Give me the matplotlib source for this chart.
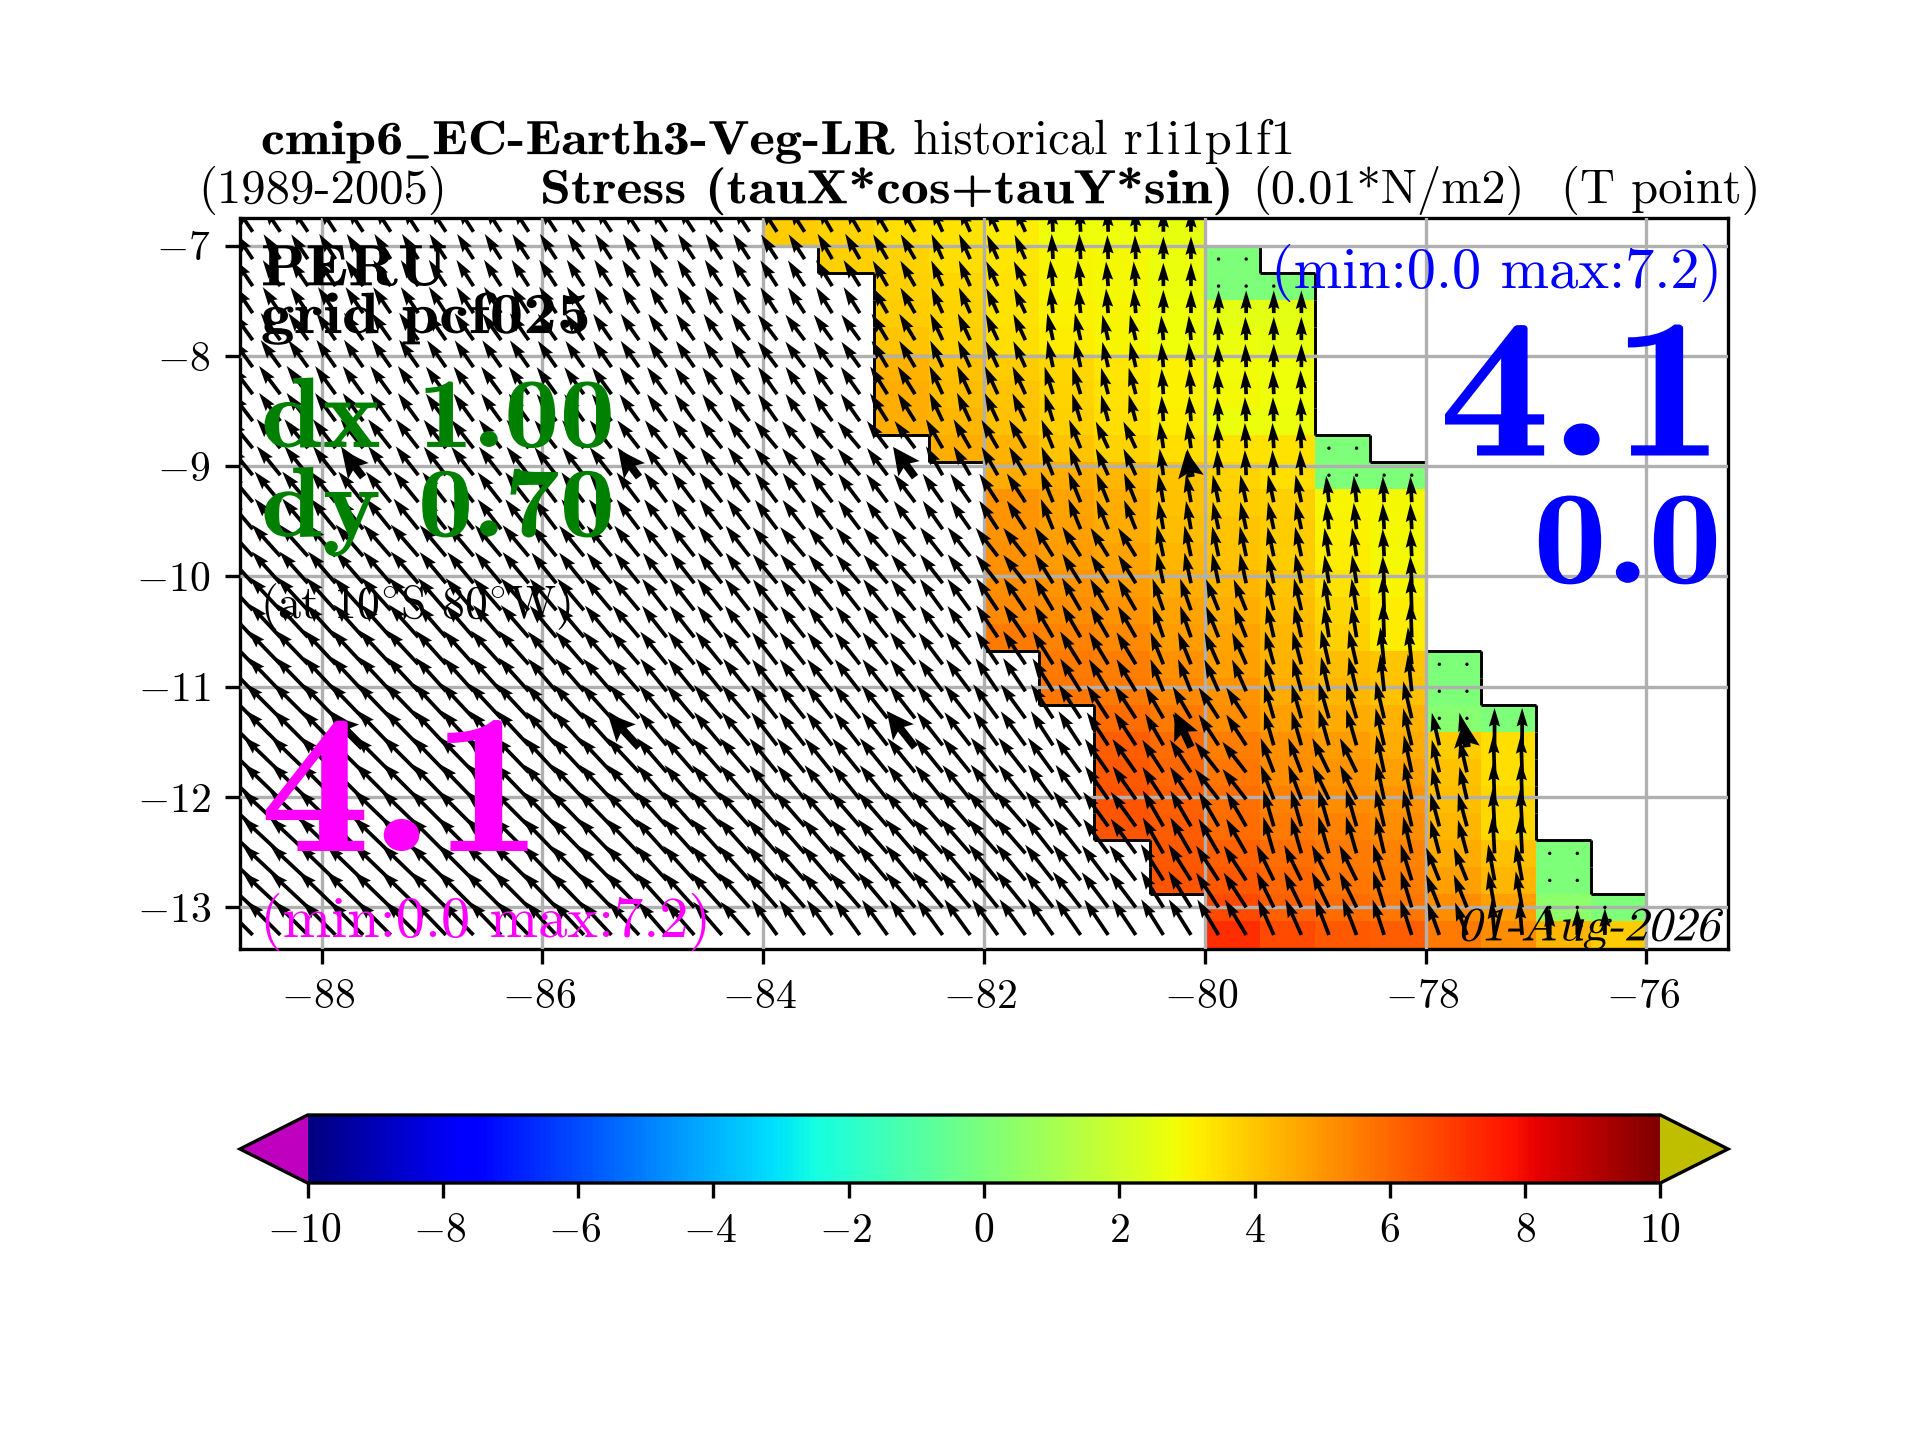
import numpy as np
import matplotlib
matplotlib.use('Agg')
import matplotlib.pyplot as plt
from matplotlib.collections import LineCollection
from matplotlib.patheffects import AbstractPathEffect
from matplotlib.transforms import Affine2D, ScaledTranslation

plt.rcParams.update({'font.family': ['cmr10', 'DejaVu Sans'], 'mathtext.fontset': 'cm',
                     'axes.formatter.use_mathtext': True, 'axes.unicode_minus': True,
                     'font.size': 10})

N = np.nan
lon_edges = [-84, -83.5, -83, -82.5, -82, -81.5, -81, -80.5, -80, -79.5, -79, -78.5, -78, -77.5, -77, -76.5, -76]
lat_edges = [-6.75, -7.0, -7.245, -7.49, -7.735, -7.98, -8.225, -8.47, -8.715, -8.96, -9.205, -9.45, -9.695, -9.94,
             -10.185, -10.43, -10.675, -10.92, -11.165, -11.41, -11.655, -11.9, -12.145, -12.39, -12.635, -12.88,
             -13.125, -13.38]
stress = [
 [3.9, 3.7, 3.5, 3.4, 3.2, 2.8, 2.75, 2.6, N, N, N, N, N, N, N, N],
 [N, 3.8, 3.7, 3.5, 3.3, 3.0, 2.9, 2.7, 0, N, N, N, N, N, N, N],
 [N, N, 3.8, 3.6, 3.4, 3.0, 2.9, 2.7, 0, 0, N, N, N, N, N, N],
 [N, N, 3.9, 3.7, 3.4, 3.1, 3.0, 2.8, 2.5, 2.5, N, N, N, N, N, N],
 [N, N, 4.0, 3.8, 3.5, 3.2, 3.0, 2.8, 2.7, 2.6, N, N, N, N, N, N],
 [N, N, 4.4, 4.1, 3.9, 3.6, 3.3, 3.1, 2.85, 2.75, N, N, N, N, N, N],
 [N, N, 4.5, 4.2, 4.0, 3.7, 3.4, 3.1, 2.9, 2.8, N, N, N, N, N, N],
 [N, N, 4.5, 4.3, 4.1, 3.8, 3.5, 3.2, 2.7, 2.7, N, N, N, N, N, N],
 [N, N, N, 4.5, 4.4, 4.0, 3.7, 3.5, 3.4, 3.4, 0, N, N, N, N, N],
 [N, N, N, N, 4.6, 4.5, 4.3, 4.0, 3.7, 3.5, 0, 0, N, N, N, N],
 [N, N, N, N, 5.0, 4.7, 4.5, 4.1, 3.9, 3.8, 3.0, 2.9, N, N, N, N],
 [N, N, N, N, 5.0, 4.8, 4.6, 4.2, 4.0, 3.9, 3.1, 2.9, N, N, N, N],
 [N, N, N, N, 5.1, 4.9, 4.7, 4.3, 4.1, 3.9, 3.2, 2.9, N, N, N, N],
 [N, N, N, N, 5.2, 5.0, 4.9, 4.5, 4.3, 4.0, 3.4, 3.0, N, N, N, N],
 [N, N, N, N, 5.3, 5.2, 5.0, 4.7, 4.5, 4.2, 3.6, 3.15, N, N, N, N],
 [N, N, N, N, 5.6, 5.4, 5.3, 4.9, 4.7, 4.3, 3.8, 3.2, N, N, N, N],
 [N, N, N, N, N, 5.6, 5.5, 5.1, 4.8, 4.4, 4.2, 4.0, 0, N, N, N],
 [N, N, N, N, N, 5.7, 5.6, 5.3, 5.0, 4.6, 4.3, 4.1, 0, N, N, N],
 [N, N, N, N, N, N, 5.9, 5.6, 5.2, 4.8, 4.6, 4.4, 0.3, 0, N, N],
 [N, N, N, N, N, N, 6.2, 5.9, 5.5, 5.1, 4.9, 4.6, 3.9, 3.5, N, N],
 [N, N, N, N, N, N, 6.3, 6.0, 5.7, 5.2, 5.0, 4.8, 4.1, 3.5, N, N],
 [N, N, N, N, N, N, 6.4, 6.1, 5.8, 5.4, 5.2, 5.0, 4.2, 3.6, N, N],
 [N, N, N, N, N, N, 6.4, 6.2, 5.9, 5.6, 5.4, 5.2, 4.3, 3.6, N, N],
 [N, N, N, N, N, N, N, 6.3, 6.1, 5.8, 5.6, 5.4, 4.6, 4.1, 0, N],
 [N, N, N, N, N, N, N, 6.4, 6.3, 6.0, 5.7, 5.5, 4.8, 4.3, 0, N],
 [N, N, N, N, N, N, N, N, 6.6, 6.1, 5.9, 5.7, 5.2, 4.8, 0.4, 0],
 [N, N, N, N, N, N, N, N, 7.2, 6.6, 6.3, 6.2, 5.6, 5.2, 4.3, 3.9],
]

# vector field, read per block: 2 grid rows by 1 deg (west) or 0.5 deg (near coast)
block_lon_edges = [-89, -88, -87, -86, -85] + lon_edges
direction_west_of_north = [
 [34, 33, 33, 33, 33, 33, 30, 30, 24, 24, 3, 2, 0, 0, 0, 0, 0, 0, 0, 0, 0],
 [34, 34, 33, 33, 33, 33, 32, 30, 24, 25, 6, 5, 0, 0, 0, 0, 0, 0, 0, 0, 0],
 [36, 35, 35, 35, 35, 37, 36, 31, 25, 25, 12, 13, 5, 2, 0, 0, 0, 0, 0, 0, 0],
 [37, 36, 36, 36, 36, 35, 35, 32, 25, 25, 17, 15, 4, 3, 2, 0, 0, 0, 0, 0, 0],
 [39, 38, 38, 38, 38, 40, 40, 37, 30, 30, 22, 25, 8, 3, 3, 0, 0, 0, 0, 0, 0],
 [40, 39, 38, 37, 37, 37, 37, 37, 35, 33, 22, 22, 10, 12, 12, 6, 3, 0, 0, 0, 0],
 [42, 41, 40, 39, 38, 40, 40, 40, 38, 38, 32, 32, 12, 12, 12, 9, 3, 0, 0, 0, 0],
 [43, 42, 41, 40, 38, 38, 38, 38, 36, 34, 30, 30, 19, 22, 13, 9, 2, 5, 0, 0, 0],
 [44, 43, 42, 41, 39, 38, 38, 38, 37, 34, 32, 31, 22, 24, 15, 13, 6, 6, 0, 0, 0],
 [45, 44, 43, 42, 40, 38, 38, 38, 38, 36, 33, 33, 30, 33, 16, 16, 13, 13, 0, 0, 0],
 [46, 45, 44, 43, 41, 39, 39, 39, 39, 38, 36, 35, 33, 38, 21, 26, 12, 13, 2, 0, 0],
 [47, 46, 45, 44, 42, 41, 41, 41, 41, 41, 38, 36, 30, 30, 16, 16, 13, 15, 3, 0, 0],
 [47, 46, 45, 44, 42, 41, 41, 40, 40, 39, 38, 37, 32, 33, 26, 26, 17, 22, 10, 0, 0],
 [45, 45, 44, 43, 41, 36, 36, 36, 36, 36, 35, 34, 32, 31, 24, 21, 18, 20, 5, 0, 0],
]
speed = [
 [4.5, 4.5, 4.5, 4.5, 4.5, 4.4, 4.4, 4.3, 4.1, 4.0, 3.8, 3.6, 3.4, 3.3, 3.3, 3.3, 3.3, 3.3, 3.3, 3.3, 3.3],
 [4.7, 4.7, 4.7, 4.7, 4.7, 4.6, 4.6, 4.4, 4.2, 4.1, 3.9, 3.7, 3.5, 3.4, 3.4, 3.3, 3.3, 3.3, 3.3, 3.3, 3.3],
 [5.0, 5.0, 4.9, 4.8, 4.8, 4.8, 4.7, 4.6, 4.4, 4.3, 4.1, 3.9, 3.7, 3.5, 3.5, 3.3, 3.3, 3.3, 3.3, 3.3, 3.3],
 [5.3, 5.2, 5.1, 5.0, 5.0, 5.0, 5.0, 4.9, 4.7, 4.6, 4.3, 4.1, 3.8, 3.6, 3.6, 3.3, 3.3, 3.3, 3.3, 3.3, 3.3],
 [5.6, 5.5, 5.4, 5.3, 5.3, 5.3, 5.2, 5.1, 5.0, 4.9, 4.6, 4.4, 4.0, 3.8, 3.8, 3.5, 3.5, 3.3, 3.3, 3.3, 3.3],
 [6.0, 5.9, 5.7, 5.6, 5.6, 5.5, 5.4, 5.3, 5.2, 5.1, 4.9, 4.7, 4.3, 4.2, 4.2, 4.0, 3.9, 3.3, 3.3, 3.3, 3.3],
 [6.4, 6.3, 6.1, 5.9, 5.8, 5.7, 5.6, 5.6, 5.5, 5.4, 5.2, 5.0, 4.7, 4.6, 4.5, 4.3, 4.1, 3.3, 3.3, 3.3, 3.3],
 [6.8, 6.6, 6.4, 6.2, 6.0, 5.9, 5.9, 5.9, 5.8, 5.8, 5.6, 5.4, 5.0, 5.0, 4.9, 4.8, 5.3, 3.5, 3.5, 3.3, 3.3],
 [7.1, 7.0, 6.8, 6.5, 6.3, 6.1, 6.1, 6.1, 6.0, 6.0, 5.8, 5.6, 5.2, 5.2, 5.1, 5.3, 5.6, 4.0, 4.5, 3.3, 3.3],
 [7.4, 7.3, 7.1, 6.8, 6.5, 6.3, 6.3, 6.3, 6.3, 6.3, 6.1, 5.9, 5.5, 5.5, 5.3, 5.6, 5.7, 5.0, 5.6, 3.3, 3.3],
 [7.7, 7.6, 7.4, 7.1, 6.8, 6.6, 6.6, 6.6, 6.6, 6.6, 6.4, 6.1, 5.8, 5.8, 5.5, 5.7, 5.7, 5.0, 5.6, 3.3, 3.3],
 [7.9, 7.8, 7.6, 7.3, 7.0, 6.8, 6.8, 6.8, 6.9, 6.9, 6.7, 6.4, 6.2, 6.0, 5.7, 5.8, 5.7, 5.2, 5.7, 3.5, 3.3],
 [7.8, 7.7, 7.6, 7.3, 7.0, 6.9, 6.9, 6.9, 7.0, 7.0, 6.8, 6.6, 6.4, 6.2, 5.9, 5.9, 5.7, 5.3, 5.5, 3.5, 3.3],
 [7.2, 7.1, 7.0, 6.8, 6.6, 6.5, 6.5, 6.5, 6.6, 6.6, 6.6, 6.4, 6.3, 6.2, 5.9, 5.9, 5.6, 5.2, 5.2, 4.0, 4.0],
]
vector_lon = np.arange(50) * 0.25 - 88.625

# thicker overlay arrows
heavy_lon = [-87.625, -85.125, -82.625, -80.125, -87.625, -85.125, -82.625, -80.125, -77.625]
heavy_lat = [-9.1, -9.1, -9.1, -9.1, -11.55, -11.55, -11.55, -11.55, -11.55]
heavy_dir = [38, 37, 36, 10, 45, 43, 38, 25, 7]
heavy_speed = [5.2, 5.2, 5.6, 4.0, 6.9, 6.9, 6.9, 5.8, 4.0]

x_ticks = [-88, -86, -84, -82, -80, -78, -76]
y_ticks = [-7, -8, -9, -10, -11, -12, -13]
cbar_ticks = [-10, -8, -6, -4, -2, 0, 2, 4, 6, 8, 10]


class Reshape(AbstractPathEffect):
    """Horizontal stretch and slant of the glyphs about the text origin."""
    def __init__(self, stretch=1.0, slant=0.0):
        super().__init__()
        self.m = Affine2D.from_values(stretch, 0, slant, 1, 0, 0)

    def draw_path(self, renderer, gc, tpath, affine, rgbFace=None):
        renderer.draw_path(gc, tpath, self.m + affine, rgbFace)


fig = plt.figure(figsize=(6.4, 4.8), dpi=300)
ax = fig.add_axes([0.125, 1 - 949 / 1440, 0.775, 731 / 1440])
cmap = plt.get_cmap('jet').copy()
cmap.set_under('#bf00bf')
cmap.set_over('#bfbf00')
Z = np.array(stress, dtype=float)
pcm = ax.pcolormesh(lon_edges, lat_edges, np.ma.masked_invalid(Z), cmap=cmap, vmin=-10, vmax=10, zorder=1)

# mask outline along cell borders
segs = []
nr, nc = Z.shape
for r in range(nr):
    for c in range(nc):
        if np.isnan(Z[r, c]):
            continue
        if c == 0 or np.isnan(Z[r, c - 1]):
            segs.append([(lon_edges[c], lat_edges[r]), (lon_edges[c], lat_edges[r + 1])])
        if c == nc - 1 or np.isnan(Z[r, c + 1]):
            segs.append([(lon_edges[c + 1], lat_edges[r]), (lon_edges[c + 1], lat_edges[r + 1])])
        if r > 0 and np.isnan(Z[r - 1, c]):
            segs.append([(lon_edges[c], lat_edges[r]), (lon_edges[c + 1], lat_edges[r])])
        if r < nr - 1 and np.isnan(Z[r + 1, c]):
            segs.append([(lon_edges[c], lat_edges[r + 1]), (lon_edges[c + 1], lat_edges[r + 1])])
ax.add_collection(LineCollection(segs, colors='k', linewidths=0.7, zorder=2))

# vectors
qx, qy, qu, qv = [], [], [], []
for r in range(nr):
    lat = 0.5 * (lat_edges[r] + lat_edges[r + 1])
    b = direction_west_of_north[r // 2]
    s = speed[r // 2]
    for lon in vector_lon:
        k = np.searchsorted(block_lon_edges, lon) - 1
        c = np.searchsorted(lon_edges, lon) - 1
        val = Z[r, c] if 0 <= c < nc else np.nan
        if np.isnan(val):
            if lon > -80:
                continue
            mag = s[k]
        else:
            mag = s[k] if val >= 1 else 0.0
        th = np.deg2rad(b[k])
        qx.append(lon); qy.append(lat)
        qu.append(-mag * np.sin(th)); qv.append(mag * np.cos(th))
ax.quiver(qx, qy, qu, qv, angles='uv', scale_units='inches', scale=45, units='width', width=0.0025,
          pivot='tail', color='k', zorder=3)
th = np.deg2rad(heavy_dir)
ax.quiver(heavy_lon, heavy_lat, -np.array(heavy_speed) * np.sin(th), np.array(heavy_speed) * np.cos(th),
          angles='uv', scale_units='inches', scale=45, units='width', width=0.0052,
          headwidth=3.4, headlength=3.5, headaxislength=3, pivot='tail', color='k', zorder=3)

ax.set_xlim(-88.74, -75.26)
ax.set_ylim(-13.38, -6.75)
ax.set_xticks(x_ticks)
ax.set_yticks(y_ticks)
ax.grid(True, color='#b0b0b0', linewidth=0.8, zorder=4)
ax.set_axisbelow(False)

cax = fig.add_axes([0.125, 1 - 1183 / 1440, 0.775, 68 / 1440])
cb = fig.colorbar(pcm, cax=cax, orientation='horizontal', extend='both', ticks=cbar_ticks)

# negative tick labels sit a little to the left in the reference
shift = ScaledTranslation(-0.85 / 72, 0, fig.dpi_scale_trans)
fig.canvas.draw()
for a in (ax, cax):
    for lab in a.get_xticklabels():
        if lab.get_position()[0] < 0:
            lab.set_transform(lab.get_transform() + shift)

S = 1.2245
def T(x, y, s, size, color='k', bold=False, family=None, stretch=1.0, slant=0.0):
    fam = family or ('cmb10' if bold else 'cmr10')
    t = fig.text(x * S / 1920, 1 - y * S / 1440, s, fontsize=size, color=color, family=[fam, 'DejaVu Sans'],
                 ha='left', va='baseline', zorder=10)
    if stretch != 1.0 or slant != 0.0:
        t.set_path_effects([Reshape(stretch, slant)])
    return t

T(213, 126, r'cmip6$\_$EC-Earth3-Veg-LR', 11.5, bold=True, stretch=1.14)
T(746, 126, 'historical r1i1p1f1', 11.65)
T(162, 166, '(1989-2005)', 11.7)
T(441, 166, 'Stress (tauX*cos+tauY*sin)', 11.5, bold=True, stretch=1.163)
T(1023, 166, '(0.01*N/m2)', 11.6)
T(1275, 166, '(T point)', 11.65)
T(213, 233, 'PERU', 14, bold=True, stretch=1.12)
T(213, 272, 'grid pcf025', 14, bold=True, stretch=1.155)
T(213, 365, 'dx 1.00', 24, color='green', bold=True, stretch=1.11)
T(213, 438, 'dy 0.70', 24, color='green', bold=True, stretch=1.11)
T(212, 505, r'(at 10$^{\circ}$S 80$^{\circ}$W)', 11)
T(212, 695, '4.1', 48, color='magenta', bold=True, stretch=1.11)
T(212, 765, '(min:0.0 max:7.2)', 14, color='magenta')
T(1038, 235, '(min:0.0 max:7.2)', 14, color='blue')
T(1175, 372, '4.1', 48, color='blue', bold=True, stretch=1.118)
T(1252, 476, '0.0', 32, color='blue', bold=True, stretch=1.11)
T(1190, 768, '01-Aug-2026', 11.5, slant=0.25)

fig.savefig('out.png', dpi=300)
